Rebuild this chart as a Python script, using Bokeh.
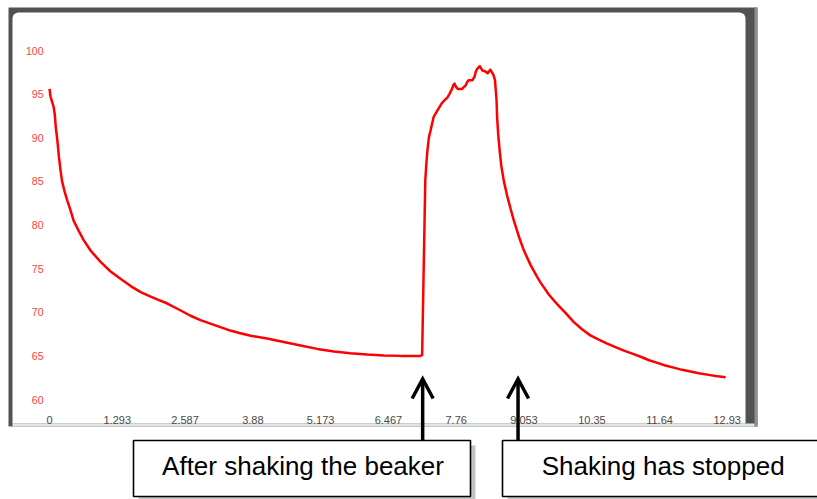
from bokeh.plotting import figure
from bokeh.models import FixedTicker, BoxAnnotation, Range1d
from bokeh.embed import file_html
from bokeh.resources import INLINE
from bokeh.core.properties import value

# ---------------- data ----------------
time_s = [0.00, 0.02, 0.05, 0.08, 0.10, 0.12, 0.15, 0.18, 0.21, 0.24, 0.29, 0.34,
          0.40, 0.46, 0.56, 0.65, 0.78, 0.97, 1.16, 1.36, 1.55, 1.74, 1.93, 2.09,
          2.25, 2.44, 2.69, 2.88, 3.07, 3.26, 3.45, 3.64, 3.84, 4.15, 4.47, 4.79,
          5.11, 5.43, 5.74, 6.06, 6.38, 6.70, 7.08, 7.11,
          7.17, 7.19, 7.21, 7.24, 7.27, 7.30, 7.33, 7.40, 7.46, 7.49, 7.54, 7.59,
          7.63, 7.68, 7.71, 7.73, 7.76, 7.79, 7.87, 7.94, 7.97, 8.00, 8.07, 8.11,
          8.13, 8.16, 8.21, 8.26, 8.32, 8.36, 8.41, 8.47, 8.50, 8.51, 8.53, 8.54,
          8.56, 8.59, 8.62, 8.67, 8.73, 8.80, 8.86, 8.96, 9.05, 9.18, 9.31, 9.37,
          9.53, 9.69, 9.85, 10.00, 10.16, 10.32, 10.48, 10.64, 10.80, 10.96, 11.12,
          11.28, 11.44, 11.60, 11.75, 11.91, 12.07, 12.23, 12.39, 12.55, 12.71, 12.90]
reading = [95.6, 94.7, 94.1, 93.5, 92.7, 91.2, 89.7, 87.8, 86.3, 85.0, 83.8, 82.8,
           81.7, 80.5, 79.3, 78.3, 77.1, 75.8, 74.7, 73.8, 73.0, 72.3, 71.8, 71.4,
           71.0, 70.4, 69.6, 69.1, 68.7, 68.3, 67.9, 67.6, 67.3, 67.0, 66.6, 66.2,
           65.8, 65.5, 65.3, 65.15, 65.05, 65.0, 65.0, 65.1,
           85.1, 87.0, 88.5, 90.1, 90.8, 91.6, 92.4, 93.1, 93.7, 94.0, 94.3, 94.6,
           95.0, 95.6, 96.1, 96.2, 95.8, 95.6, 95.6, 96.0, 96.4, 96.6, 96.6, 97.0,
           97.5, 97.9, 98.2, 97.7, 97.6, 97.4, 97.8, 97.2, 96.6, 95.8, 94.3, 92.4,
           90.5, 88.5, 86.8, 85.0, 83.4, 81.8, 80.5, 78.6, 77.1, 75.4, 74.0, 73.4,
           72.0, 70.9, 69.9, 68.9, 68.05, 67.35, 66.85, 66.4, 66.0, 65.6, 65.25,
           64.9, 64.5, 64.2, 63.9, 63.65, 63.4, 63.2, 63.0, 62.85, 62.7, 62.55]

x_ticks = [0, 1.293, 2.587, 3.88, 5.173, 6.467, 7.76, 9.053, 10.35, 11.64, 12.93]
x_tick_labels = ["0", "1.293", "2.587", "3.88", "5.173", "6.467", "7.76",
                 "9.053", "10.35", "11.64", "12.93"]
y_ticks = [60, 65, 70, 75, 80, 85, 90, 95, 100]

notes = ["After shaking the beaker", "Shaking has stopped"]
note_times = [7.12, 8.94]   # where the arrows point (time axis)

# ---------------- layout helpers (canvas px -> data) ----------------
W, H = 817, 499
T0_PX, PX_PER_T = 49.0, 52.41
V60_PX, PX_PER_V = 399.0, 8.725


def tx(cx):
    return (cx - T0_PX) / PX_PER_T


def vy(cy):
    return 60 + (V60_PX - cy) / PX_PER_V


def px_t(t):
    return T0_PX + t * PX_PER_T


p = figure(width=W, height=H, output_backend="svg", toolbar_location=None,
           x_range=Range1d(tx(0), tx(W)), y_range=Range1d(vy(H), vy(0)),
           min_border=0, outline_line_color=None,
           background_fill_color="white", border_fill_color="white")
p.grid.visible = False

# ---------------- screenshot frame ----------------
p.quad(left=[tx(8)], right=[tx(757)], top=[vy(7)], bottom=[vy(426)],
       fill_color="#515353", line_color=None, level="image")
p.quad(left=[tx(754)], right=[tx(757)], top=[vy(7)], bottom=[vy(426)],
       fill_color="#8d9093", line_color=None, level="image")
p.quad(left=[tx(12)], right=[tx(754)], top=[vy(423)], bottom=[vy(426)],
       fill_color="#e4e4e4", line_color=None, level="image")
panel = BoxAnnotation(left=tx(12), right=tx(745), top=vy(12), bottom=vy(423),
                      fill_color="white", fill_alpha=1.0, line_color=None,
                      border_radius=(6, 6, 0, 0), level="underlay")
p.add_layout(panel)

# ---------------- data line ----------------
p.line(time_s, reading, line_color="#ff0000", line_width=2.5, line_join="round")

# ---------------- axes ----------------
p.yaxis.fixed_location = tx(45)
p.yaxis.ticker = FixedTicker(ticks=y_ticks)
p.yaxis.axis_line_color = None
p.yaxis.major_tick_line_color = None
p.yaxis.minor_tick_line_color = None
p.yaxis.major_tick_out = 0
p.yaxis.major_tick_in = 0
p.yaxis.major_label_standoff = 2
p.yaxis.major_label_text_color = "#ff3c3c"
p.yaxis.major_label_text_font = "Liberation Sans"
p.yaxis.major_label_text_font_size = "10.5px"

p.xaxis.fixed_location = vy(409)
p.xaxis.ticker = FixedTicker(ticks=x_ticks)
p.xaxis.major_label_overrides = {t: s for t, s in zip(x_ticks, x_tick_labels)}
p.xaxis.axis_line_color = None
p.xaxis.major_tick_line_color = None
p.xaxis.minor_tick_line_color = None
p.xaxis.major_tick_out = 0
p.xaxis.major_tick_in = 0
p.xaxis.major_label_standoff = 6
p.xaxis.major_label_text_color = "#4a4a4a"
p.xaxis.major_label_text_font = "Liberation Sans"
p.xaxis.major_label_text_font_size = "11px"

# ---------------- annotation boxes ----------------
box_l = [133, 502]
box_r = [470, 840]
box_t, box_b = 440, 496
sh = 5
p.quad(left=[tx(l + sh) for l in box_l], right=[tx(r + sh) for r in box_r],
       top=[vy(box_t + sh)] * 2, bottom=[vy(box_b + sh)] * 2,
       fill_color="#c4c4c4", line_color=None)
p.quad(left=[tx(l) for l in box_l], right=[tx(r) for r in box_r],
       top=[vy(box_t)] * 2, bottom=[vy(box_b)] * 2,
       fill_color="white", line_color="black", line_width=1.6)
p.text(x=[tx(302.5), tx(662.7)], y=[vy(465)] * 2, text=notes,
       text_font=value("Liberation Sans"), text_font_size="26px",
       text_align="center", text_baseline="middle", text_color="black")

# ---------------- arrows ----------------
xs, ys = [], []
tip, arm, half = 378.5, 398.0, 10.5
for t in note_times:
    cx = px_t(t)
    xs.append([cx, cx]); ys.append([tip, box_t])
    xs.append([cx - half, cx, cx + half]); ys.append([arm, tip, arm])
p.multi_line(xs=[[tx(c) for c in a] for a in xs], ys=[[vy(c) for c in a] for a in ys],
             line_color="black", line_width=3.5, line_join="miter", level="overlay")

open("out.html", "w").write(file_html(p, INLINE))
